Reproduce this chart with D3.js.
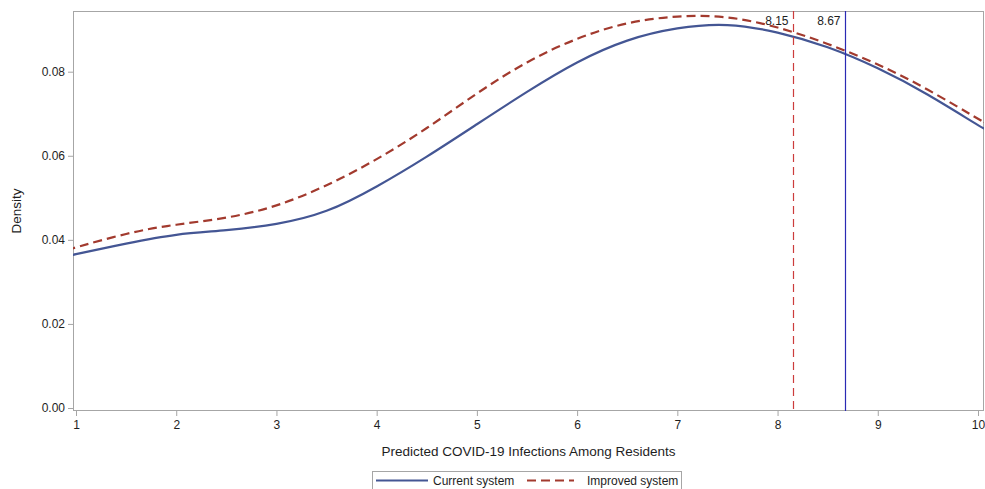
<!DOCTYPE html>
<html>
<head>
<meta charset="utf-8">
<script src="https://cdn.jsdelivr.net/npm/d3@7"></script>
<style>
  html, body { margin: 0; padding: 0; background: #fff; }
  svg { display: block; font-family: "Liberation Sans", Arial, sans-serif; }
</style>
</head>
<body>
<svg id="chart" width="985" height="489"></svg>
<script>
// Kernel density estimates of predicted infections, evaluated on a common grid
const grid = [0.97, 1.0, 1.5, 2.0, 2.5, 3.0, 3.5, 4.0, 4.5, 5.0, 5.5, 6.0, 6.5, 7.0, 7.5, 8.0, 8.5, 9.0, 9.5, 10.0, 10.06];
const currentDensity = [0.0364, 0.0366, 0.0391, 0.0412, 0.0423, 0.0438, 0.0469, 0.0527, 0.0598, 0.0675, 0.0752, 0.0822, 0.0874, 0.0903, 0.0911, 0.0893, 0.0858, 0.0808, 0.0745, 0.0673, 0.0667];
const improvedDensity = [0.0380, 0.0382, 0.0414, 0.0436, 0.0453, 0.0482, 0.0530, 0.0592, 0.0666, 0.0748, 0.0822, 0.0878, 0.0915, 0.0931, 0.0929, 0.0905, 0.0866, 0.0817, 0.0757, 0.0688, 0.0681];

// Reference lines (mean predicted infections per system)
const refValues = [8.67, 8.15];
const refLabels = ["8.67", "8.15"];

const xTicks = [1, 2, 3, 4, 5, 6, 7, 8, 9, 10];
const yTicks = [0, 0.02, 0.04, 0.06, 0.08];

const seriesNames = ["Current system", "Improved system"];

const svg = d3.select("#chart");

// Plot frame
const frame = { left: 73, right: 984, top: 11, bottom: 411 };

const x = d3.scaleLinear().domain([1, 10]).range([76, 978]);
const y = d3.scaleLinear().domain([0, 0.08]).range([408, 71.7]);

const blue = "#445694";
const red = "#A23A2E";
const axisGray = "#a6a6a6";
const textColor = "#1e1e1e";

const defs = svg.append("defs");
defs.append("clipPath").attr("id", "plotClip")
  .append("rect")
  .attr("x", frame.left).attr("y", frame.top)
  .attr("width", frame.right - frame.left).attr("height", frame.bottom - frame.top);

// Y axis (left)
const yAxis = d3.axisLeft(y).tickValues(yTicks).tickFormat(d3.format(".2f")).tickSize(5).tickPadding(3);
const gy = svg.append("g").attr("transform", `translate(${frame.left},0)`).call(yAxis);
gy.select(".domain").remove();
gy.selectAll(".tick line").attr("stroke", axisGray);
gy.selectAll(".tick text").attr("fill", textColor).style("font-size", "12px")
  .style("font-family", "Liberation Sans, Arial, sans-serif");

// X axis (bottom)
const xAxis = d3.axisBottom(x).tickValues(xTicks).tickFormat(d3.format("d")).tickSize(5).tickPadding(4);
const gx = svg.append("g").attr("transform", `translate(0,${frame.bottom})`).call(xAxis);
gx.select(".domain").remove();
gx.selectAll(".tick line").attr("stroke", axisGray);
gx.selectAll(".tick text").attr("fill", textColor).style("font-size", "12px")
  .style("font-family", "Liberation Sans, Arial, sans-serif");

// Frame border
svg.append("rect")
  .attr("x", frame.left + 0.5).attr("y", frame.top + 0.5)
  .attr("width", frame.right - frame.left - 1).attr("height", frame.bottom - frame.top - 1)
  .attr("fill", "none").attr("stroke", axisGray).attr("stroke-width", 1);

const plot = svg.append("g").attr("clip-path", "url(#plotClip)");

const line = d3.line()
  .x((d, i) => x(grid[i]))
  .y(d => y(d))
  .curve(d3.curveNatural);

// Density curves
plot.append("path")
  .datum(currentDensity)
  .attr("d", line)
  .attr("fill", "none")
  .attr("stroke", blue)
  .attr("stroke-width", 2.2);

plot.append("path")
  .datum(improvedDensity)
  .attr("d", line)
  .attr("fill", "none")
  .attr("stroke", red)
  .attr("stroke-width", 2.2)
  .attr("stroke-dasharray", "9,5");

// Reference lines
const refStyles = [
  { stroke: "#2a2ab4", dash: null },
  { stroke: "#cc3c3c", dash: "8,5" }
];
refValues.forEach((v, i) => {
  const px = Math.round(x(v)) + 0.5;
  const l = svg.append("line")
    .attr("x1", px).attr("x2", px)
    .attr("y1", frame.top).attr("y2", frame.bottom)
    .attr("stroke", refStyles[i].stroke)
    .attr("stroke-width", 1.2);
  if (refStyles[i].dash) l.attr("stroke-dasharray", refStyles[i].dash);
  svg.append("text")
    .attr("x", px - 5).attr("y", 25)
    .attr("text-anchor", "end")
    .attr("fill", textColor)
    .style("font-size", "12px")
    .text(refLabels[i]);
});

// Axis titles
svg.append("text")
  .attr("x", (frame.left + frame.right) / 2).attr("y", 456)
  .attr("text-anchor", "middle")
  .attr("fill", textColor)
  .style("font-size", "13.5px")
  .text("Predicted COVID-19 Infections Among Residents");

svg.append("text")
  .attr("transform", `translate(21,${(frame.top + frame.bottom) / 2}) rotate(-90)`)
  .attr("text-anchor", "middle")
  .attr("fill", textColor)
  .style("font-size", "13.5px")
  .text("Density");

// Legend
const legend = svg.append("g");
legend.append("rect")
  .attr("x", 372.5).attr("y", 471.5)
  .attr("width", 309).attr("height", 22)
  .attr("fill", "none").attr("stroke", axisGray);

const legendItems = [
  { name: seriesNames[0], color: blue, dash: null, x0: 376, x1: 428, tx: 433 },
  { name: seriesNames[1], color: red, dash: "9,5", x0: 527, x1: 574, tx: 587 }
];
legendItems.forEach(it => {
  const ln = legend.append("line")
    .attr("x1", it.x0).attr("x2", it.x1)
    .attr("y1", 480.5).attr("y2", 480.5)
    .attr("stroke", it.color).attr("stroke-width", 2.2);
  if (it.dash) ln.attr("stroke-dasharray", it.dash);
  legend.append("text")
    .attr("x", it.tx).attr("y", 485)
    .attr("fill", textColor)
    .style("font-size", "12px")
    .text(it.name);
});
</script>
</body>
</html>
